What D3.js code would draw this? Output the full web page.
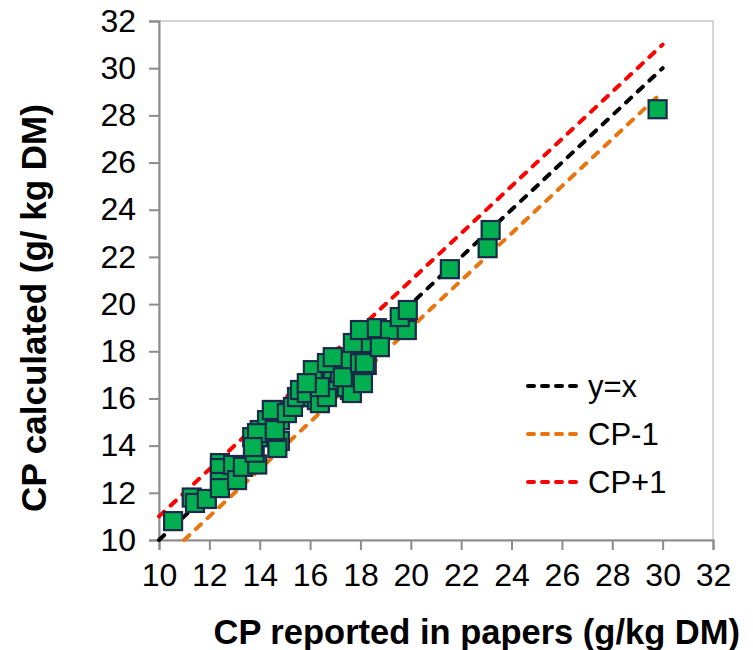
<!DOCTYPE html>
<html>
<head>
<meta charset="utf-8">
<script src="https://cdn.jsdelivr.net/npm/d3@7"></script>
<style>
  body { margin: 0; background: #fff; }
  text { font-family: "Liberation Sans", Arial, sans-serif; }
</style>
</head>
<body>
<svg id="chart" width="753" height="650"></svg>
<script>
// data: CP reported (x) vs CP calculated (y)
const reportedCP = [
  10.56, 11.3, 11.43, 11.9, 12.42, 12.42, 12.42, 12.42, 12.94, 13.1,
  13.33, 13.9, 13.8, 13.7, 14.0, 14.5, 14.4, 14.8, 14.7, 13.93,
  14.6, 14.29, 14.8, 13.89, 14.6, 13.73, 14.52, 14.48, 15.08, 15.32,
  15.6, 15.48, 15.6, 15.99, 16.11, 16.27, 15.87, 16.39, 16.67, 16.67,
  16.79, 16.79, 16.9, 17.3, 17.18, 17.58, 17.46, 17.66, 16.11, 16.39,
  15.87, 17.3, 17.7, 17.06, 17.46, 16.67, 16.9, 17.3, 17.98, 18.25,
  18.1, 18.77, 18.1, 18.25, 18.17, 18.17, 17.7, 18.1, 17.98, 18.65,
  19.17, 19.84, 19.56, 19.88, 18.77, 21.55, 23.05, 23.17, 29.8
];
const calculatedCP = [
  10.8, 11.8, 11.57, 11.74, 13.26, 13.05, 12.46, 12.2, 13.18, 12.54,
  13.1, 13.2, 13.7, 14.36, 14.66, 14.36, 14.8, 14.2, 13.9, 14.36,
  14.58, 15.08, 15.08, 14.53, 14.66, 13.94, 15.51, 15.51, 15.38, 15.64,
  16.06, 16.06, 16.36, 16.65, 16.06, 15.93, 16.23, 15.8, 16.06, 16.9,
  16.78, 17.33, 17.08, 17.08, 17.08, 16.36, 16.48, 16.23, 17.2, 16.48,
  16.65, 17.63, 17.63, 17.63, 17.63, 17.5, 17.75, 16.9, 17.5, 17.42,
  18.26, 18.18, 18.47, 18.18, 18.35, 17.5, 18.35, 16.65, 18.9, 18.98,
  18.9, 18.9, 19.45, 19.75, 18.18, 21.48, 22.37, 23.14, 28.26
];

// reference lines and legend
const lineNames = ["y=x", "CP-1", "CP+1"];
const lineColors = ["#000000", "#e8750f", "#ff0000"];
const lineStart = [[10, 10], [11, 10], [10, 11]];
const lineEnd = [[30, 30], [30, 29], [30, 31]];

const tickValues = [10, 12, 14, 16, 18, 20, 22, 24, 26, 28, 30, 32];

const svg = d3.select("#chart");
const plotLeft = 159, plotTop = 21, plotRight = 713, plotBottom = 540;

const x = d3.scaleLinear().domain([10, 32]).range([plotLeft, plotRight]);
const y = d3.scaleLinear().domain([10, 32]).range([plotBottom, plotTop]);

// plot frame (light gray top/right)
svg.append("rect")
  .attr("x", plotLeft).attr("y", plotTop)
  .attr("width", plotRight - plotLeft).attr("height", plotBottom - plotTop)
  .attr("fill", "none").attr("stroke", "#c8c8c8").attr("stroke-width", 1.5);

// axes
const xAxis = svg.append("g")
  .attr("transform", "translate(0," + plotBottom + ")")
  .call(d3.axisBottom(x).tickValues(tickValues).tickSize(10).tickPadding(13));
const yAxis = svg.append("g")
  .attr("transform", "translate(" + plotLeft + ",0)")
  .call(d3.axisLeft(y).tickValues(tickValues).tickSize(10).tickPadding(13));

[xAxis, yAxis].forEach(a => {
  a.select(".domain").attr("stroke", "#8c8c8c").attr("stroke-width", 2);
  a.selectAll(".tick line").attr("stroke", "#8c8c8c").attr("stroke-width", 2);
  a.selectAll(".tick text")
    .attr("fill", "#000")
    .style("font-size", "32px")
    .style("font-family", "Liberation Sans, Arial, sans-serif");
});

// dashed reference lines
for (let i = 0; i < lineNames.length; i++) {
  svg.append("line")
    .attr("x1", x(lineStart[i][0])).attr("y1", y(lineStart[i][1]))
    .attr("x2", x(lineEnd[i][0])).attr("y2", y(lineEnd[i][1]))
    .attr("stroke", lineColors[i])
    .attr("stroke-width", 4)
    .attr("stroke-linecap", "round")
    .attr("stroke-dasharray", "7,9");
}

// points
const pts = reportedCP.map((v, i) => ({x: v, y: calculatedCP[i]}));
const sz = 18;
svg.append("g").selectAll("rect")
  .data(pts)
  .enter()
  .append("rect")
  .attr("x", d => x(d.x) - sz / 2)
  .attr("y", d => y(d.y) - sz / 2)
  .attr("width", sz).attr("height", sz)
  .attr("fill", "#00b050")
  .attr("stroke", "#1a2a48")
  .attr("stroke-width", 2.2);

// legend
const legend = svg.append("g");
for (let i = 0; i < lineNames.length; i++) {
  const ly = 386 + i * 48;
  legend.append("line")
    .attr("x1", 528).attr("x2", 583).attr("y1", ly).attr("y2", ly)
    .attr("stroke", lineColors[i]).attr("stroke-width", 4)
    .attr("stroke-linecap", "round").attr("stroke-dasharray", "6,8");
  legend.append("text")
    .attr("x", 588).attr("y", ly + 11)
    .style("font-size", "31px")
    .text(lineNames[i]);
}

// axis titles
svg.append("text")
  .attr("x", 740).attr("y", 644)
  .attr("text-anchor", "end")
  .style("font-size", "34.5px").style("font-weight", "bold")
  .text("CP reported in papers (g/kg DM)");

svg.append("text")
  .attr("transform", "translate(46,308) rotate(-90)")
  .attr("text-anchor", "middle")
  .style("font-size", "35px").style("font-weight", "bold")
  .text("CP calculated (g/ kg DM)");
</script>
</body>
</html>
